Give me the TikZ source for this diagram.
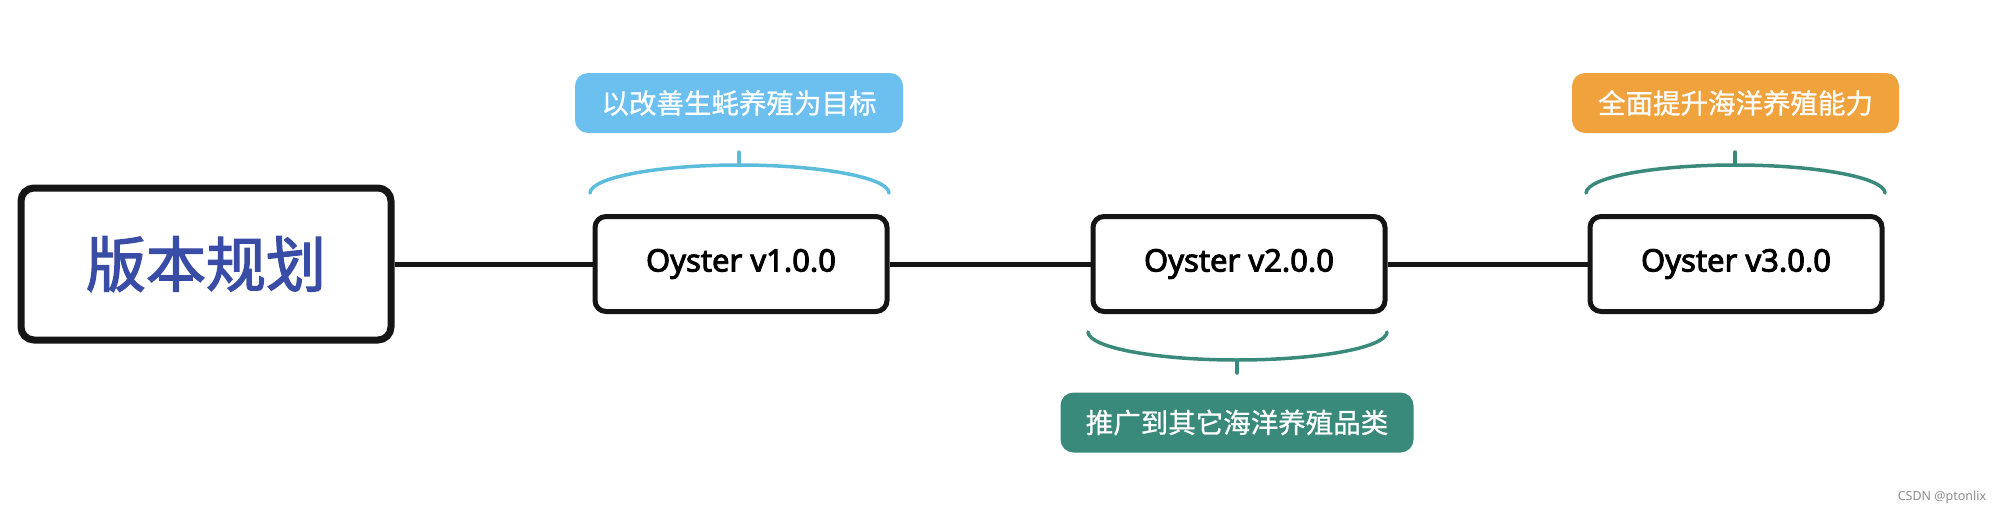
\documentclass[tikz,border=0pt]{standalone}
\usepackage{fontspec}
\setmainfont{Noto Sans}
\newfontfamily\cjk[FakeBold=0.8]{Noto Sans CJK SC}
\newfontfamily\cjkmed[FakeBold=2.2]{Noto Sans CJK SC}
\newfontfamily\vermed[FakeBold=3]{Noto Sans}
\definecolor{titleblue}{HTML}{3A4DA6}
\definecolor{skyblue}{HTML}{6CC0F0}
\definecolor{bracecyan}{HTML}{5BBCDB}
\definecolor{teal}{HTML}{3A8A7B}
\definecolor{orange}{HTML}{F0A33D}
\definecolor{boxline}{HTML}{151515}
\tikzset{
	rootbox/.style={draw=boxline,line width=7pt,rounded corners=13pt,fill=white,minimum width=370pt,minimum height=152pt,inner sep=0pt},
	verbox/.style={draw=boxline,line width=5pt,rounded corners=11pt,fill=white,minimum width=292pt,minimum height=95pt,inner sep=0pt,font=\vermed\fontsize{31}{36}\selectfont},
	tagbox/.style={rounded corners=13pt,minimum height=60pt,inner sep=0pt,text=white,font=\cjk\fontsize{27.5}{32}\selectfont},
	link/.style={draw=boxline,line width=5pt},
	bracket/.style={line width=3.5pt,line cap=round}
}
\begin{document}
\begin{tikzpicture}[x=1pt,y=1pt,yscale=-1]
		\useasboundingbox (0,0) rectangle (2000,514);

		% version nodes
		\node[rootbox] (root) at (206,264) {\cjkmed\fontsize{60}{66}\selectfont\textcolor{titleblue}{版本规划}};
		\node[verbox] (v1) at (741,264) {Oyster v1.0.0};
		\node[verbox] (v2) at (1239,264) {Oyster v2.0.0};
		\node[verbox] (v3) at (1736,264) {Oyster v3.0.0};

		\draw[link] (root.east) -- (v1.west);
		\draw[link] (v1.east) -- (v2.west);
		\draw[link] (v2.east) -- (v3.west);

		% goal tags
		\node[tagbox,fill=skyblue,minimum width=328pt] (goal1) at (739,103) {以改善生蚝养殖为目标};
		\node[tagbox,fill=teal,minimum width=353pt] (goal2) at (1237,422.5) {推广到其它海洋养殖品类};
		\node[tagbox,fill=orange,minimum width=327pt] (goal3) at (1735.5,103) {全面提升海洋养殖能力};

		% brackets
		\draw[bracket,draw=bracecyan] (590,193) .. controls (591,177) and (660,165) .. (739,165) .. controls (818,165) and (888,177) .. (889,193);
		\draw[bracket,draw=bracecyan] (739,165) -- (739,152);
		\draw[bracket,draw=teal] (1088,332) .. controls (1089,348) and (1158,360) .. (1237,360) .. controls (1316,360) and (1386,348) .. (1387,332);
		\draw[bracket,draw=teal] (1237,360) -- (1237,373);
		\draw[bracket,draw=teal] (1586,193) .. controls (1587,177) and (1656,165) .. (1735,165) .. controls (1814,165) and (1884,177) .. (1885,193);
		\draw[bracket,draw=teal] (1735,165) -- (1735,152);

		\node[text=black!45,font=\fontsize{12.5}{14}\selectfont,inner sep=0pt] (mark) at (1942,497) {CSDN @ptonlix};
\end{tikzpicture}
\end{document}
